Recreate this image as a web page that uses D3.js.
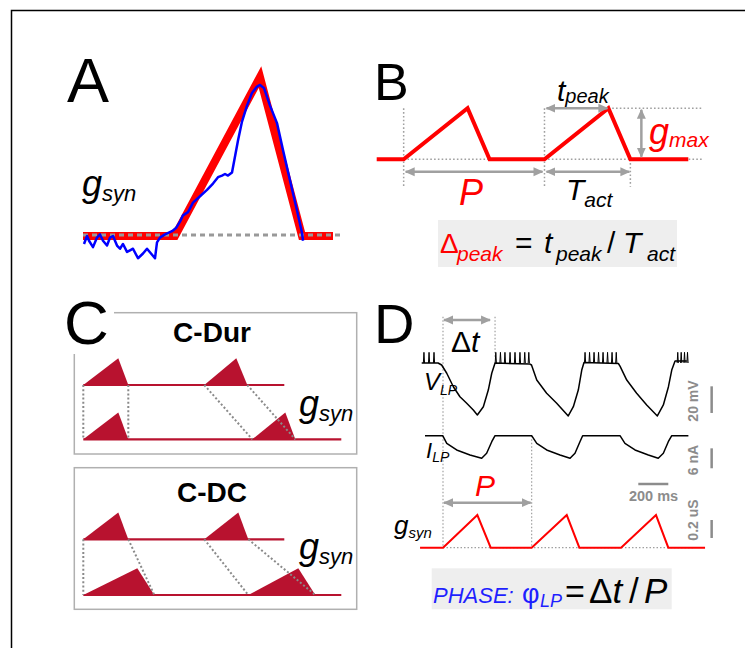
<!DOCTYPE html>
<html><head><meta charset="utf-8">
<script src="https://cdn.jsdelivr.net/npm/d3@7"></script>
<style>body{margin:0;background:#fff}svg{display:block}text{font-family:"Liberation Sans",Arial,Helvetica,sans-serif}</style>
</head><body><svg id="c" width="745" height="648"></svg>
<script>
// ---------------- Panel A data (time in ms, conductance normalised) ----------------
const aModelT = [0, 92, 177, 219, 250];
const aModelG = [0, 0, 1, 0, 0];
const aBaseT = [0, 260];
const aTraceT = [1,4,6,10,14,17,20,24,27,30,34,37,40,44,47,50,55,60,64,68,72,74,77,82,89,93,97,100,105,110,117,124,130,135,139,142,145,149,152,155,159,164,169,174,177,181,187,194,200,207,214,219,220];
const aTraceG = [-0.05,0,-0.03,-0.07,-0.01,0.01,-0.03,-0.06,-0.01,0,-0.06,-0.08,-0.05,-0.10,-0.09,-0.08,-0.14,-0.11,-0.08,-0.11,-0.14,-0.04,-0.01,0.01,0.03,0.05,0.09,0.13,0.15,0.21,0.25,0.29,0.33,0.37,0.38,0.39,0.38,0.40,0.50,0.60,0.72,0.82,0.90,0.94,0.95,0.93,0.82,0.71,0.54,0.35,0.16,0.02,-0.03];

// ---------------- Panel B data ----------------
const bOnsets = [27, 168];
const bTpeak = 64;
const bTact = 86;
const bEnd = 312;
const bGmax = 1;

// ---------------- Panel C data: [onset, peak, offset] per activation ----------------
const cDurRow1 = [[0, 35, 45], [121, 153, 164]];
const cDurRow2 = [[0, 35, 45], [169, 202, 212]];
const cDurEnds = [201, 258];
const cDcRow1 = [[0, 35, 45], [121, 155, 165]];
const cDcRow2 = [[0, 54, 71], [165, 215, 232]];
const cDcEnds = [201, 258];

// ---------------- Panel D data (ms, mV, nA, uS) ----------------
const vT = [-142,-33,-9,25,69,113,158,202,229,269,302,325,347,580,590,625,691,758,835,869,902,925,940,1169,1180,1225,1291,1358,1429,1469,1503,1525,1547,1625];
const vV = [-40,-40,-41.5,-47.7,-57.8,-65.3,-70.2,-75.3,-79,-72.8,-60.3,-47.7,-40,-40.8,-41.5,-52.8,-62.7,-70.2,-79.7,-72.8,-60.3,-45.3,-39.6,-40.4,-42.3,-52.8,-62.7,-71.5,-79.7,-71.5,-57.8,-45.3,-38.5,-38.5];
const spikeT = [-127,-93,-60, 352,383,413,447,480,513,545,572, 947,977,1007,1037,1067,1097,1127,1155, 1565,1588,1610,1630];
const spikePeakV = -32;
const iT = [-120,-2,25,91,180,258,291,325,347,591,625,691,780,847,880,913,931,1180,1213,1280,1369,1435,1469,1502,1525,1636];
const iI = [0,0,-2.3,-4.3,-5.8,-6.8,-5.3,-1.8,0,0,-2.3,-4.3,-5.8,-6.8,-5.3,-1.8,0,0,-2.3,-4.3,-5.8,-6.8,-5.3,-1.8,0,0];
const gOnsets = [0, 591, 1187];
const gPeakT = [229, 825, 1420];
const gOffsets = [318, 909, 1502];
const gPeakVal = 0.363;
const gRange = [-153, 1747];
const dDeltaT = 347;
const dPeriod = 591;
const scaleBars = {mV: 20, nA: 6, uS: 0.2, ms: 200};

// ======================================================================
const svg = d3.select('#c');
const GRAY = '#a0a0a0';

// frame
svg.append('path').attr('d','M11.5,648 L11.5,10.5 L745,10.5').attr('fill','none').attr('stroke','#000').attr('stroke-width',1.5);

// arrow marker
const defs = svg.append('defs');
defs.append('marker').attr('id','ah').attr('viewBox','0 0 10 10').attr('refX',9).attr('refY',5)
  .attr('markerUnits','userSpaceOnUse').attr('markerWidth',10).attr('markerHeight',10)
  .attr('orient','auto-start-reverse')
  .append('path').attr('d','M0,0.5 L10,5 L0,9.5 Z').attr('fill',GRAY);

function txt(g, x, y, s, size, opts={}) {
  return g.append('text').attr('x',x).attr('y',y).text(s)
    .attr('font-size',size).attr('fill',opts.fill||'#000')
    .attr('font-style',opts.italic?'italic':'normal')
    .attr('font-weight',opts.bold?'bold':'normal')
    .attr('text-anchor',opts.anchor||'start');
}
function sublabel(g, x, y, main, sub, size, subSize, dy, opts={}) {
  const t = g.append('text').attr('x',x).attr('y',y).attr('fill',opts.fill||'#000')
    .attr('font-style','italic');
  t.append('tspan').attr('font-size',size).text(main);
  t.append('tspan').attr('font-size',subSize).attr('dy',dy).text(sub);
  return t;
}
function arrow(g, x1, y1, x2, y2) {
  g.append('line').attr('x1',x1).attr('y1',y1).attr('x2',x2).attr('y2',y2)
    .attr('stroke',GRAY).attr('stroke-width',2.5)
    .attr('marker-start','url(#ah)').attr('marker-end','url(#ah)');
}
function dotted(g, x1, y1, x2, y2, w=1.5, dash='1.6,2.2', col=GRAY) {
  g.append('line').attr('x1',x1).attr('y1',y1).attr('x2',x2).attr('y2',y2)
    .attr('stroke',col).attr('stroke-width',w).attr('stroke-dasharray',dash);
}

// ======================= Panel A =======================
{
  const g = svg.append('g');
  const x = d3.scaleLinear().domain([0, 260]).range([83, 343]);
  const y = d3.scaleLinear().domain([0, 1]).range([236, 77]);
  const line = d3.line().x(d=>x(d[0])).y(d=>y(d[1]));
  g.append('path').attr('d', line(aModelT.map((t,i)=>[t,aModelG[i]])))
    .attr('fill','none').attr('stroke','#ff0000').attr('stroke-width',8).attr('stroke-linejoin','miter').attr('stroke-miterlimit',10);
  g.append('path').attr('d', line(aBaseT.map(t=>[t,0.006])))
    .attr('fill','none').attr('stroke','#999').attr('stroke-width',3).attr('stroke-dasharray','5,4');
  g.append('path').attr('d', line(aTraceT.map((t,i)=>[t,aTraceG[i]])))
    .attr('fill','none').attr('stroke','#0000ff').attr('stroke-width',2.5).attr('stroke-linejoin','round');
  txt(g, 67, 102, 'A', 63);
  sublabel(g, 82, 195.5, 'g', 'syn', 36, 22, 5);
}

// ======================= Panel B =======================
{
  const g = svg.append('g');
  const x = d3.scaleLinear().domain([0, 312]).range([376.7, 688.3]);
  const y = d3.scaleLinear().domain([0, 1]).range([159.3, 108.3]);
  const pts = [[0,0]];
  bOnsets.forEach(o => { pts.push([o,0],[o+bTpeak,bGmax],[o+bTact,0]); });
  pts.push([bEnd,0]);
  const o1 = bOnsets[0], o2 = bOnsets[1];
  dotted(g, x(o1), y(1), x(o1), y(-0.54));
  dotted(g, x(o2), y(1), x(o2), y(-0.54));
  dotted(g, x(o2+bTact), y(0), x(o2+bTact), y(-0.54));
  dotted(g, x(o1), y(0), x(326), y(0));
  dotted(g, x(o2+bTpeak), y(1), x(326), y(1));
  g.append('path').attr('d', d3.line().x(d=>x(d[0])).y(d=>y(d[1]))(pts))
    .attr('fill','none').attr('stroke','#ff0000').attr('stroke-width',4).attr('stroke-linejoin','miter');
  arrow(g, x(o1)+2, y(-0.245), x(o2)-2, y(-0.245));
  arrow(g, x(o2)+2, y(-0.245), x(o2+bTact)-1, y(-0.245));
  arrow(g, x(o2)+2, y(1), x(o2+bTpeak)-1, y(1));
  arrow(g, x(265), y(0.97), x(265), y(0.05));
  txt(g, 374, 100, 'B', 52);
  sublabel(g, 557, 101, 't', 'peak', 30, 20, 2);
  sublabel(g, 649, 143.5, 'g', 'max', 36, 21, 3, {fill:'#ff0000'});
  txt(g, 459, 205, 'P', 36, {italic:true, fill:'#ff0000'});
  sublabel(g, 566, 200, 'T', 'act', 30, 21, 7);
  g.append('rect').attr('x',438).attr('y',220).attr('width',239).attr('height',47).attr('fill','#eeeeee');
  txt(g, 440, 253, 'Δ', 28, {fill:'#ff0000'});
  txt(g, 457, 261, 'peak', 21, {fill:'#ff0000', italic:true});
  txt(g, 515, 253, '=', 30);
  txt(g, 544, 253, 't', 30, {italic:true});
  txt(g, 556, 261, 'peak', 21, {italic:true});
  txt(g, 607, 253, '/', 30);
  txt(g, 623, 253, 'T', 30, {italic:true});
  txt(g, 647, 261, 'act', 21, {italic:true});
}

// ======================= Panel C =======================
{
  const g = svg.append('g');
  const x = d3.scaleLinear().domain([0, 258]).range([83.3, 341.3]);
  const CRIM = '#b8122f';
  function panel(rowTop, rowBot, ends, y1, y2, boxY, boxH, title, titleY, gY) {
    g.append('rect').attr('x',74.3).attr('y',boxY).attr('width',282.4).attr('height',boxH)
      .attr('fill','none').attr('stroke','#b0b0b0').attr('stroke-width',1.5);
    txt(g, 212, titleY, title, 28, {bold:true, anchor:'middle'});
    [[rowTop,ends[0],y1],[rowBot,ends[1],y2]].forEach(([row,end,base])=>{
      const y = d3.scaleLinear().domain([0,1]).range([base, base-26.7]);
      g.append('line').attr('x1',x(0)).attr('x2',x(end)).attr('y1',base).attr('y2',base)
        .attr('stroke',CRIM).attr('stroke-width',2.2);
      row.forEach(tr=>{
        g.append('path').attr('d', d3.line().x(d=>x(d[0])).y(d=>y(d[1]))([[tr[0],0],[tr[1],1],[tr[2],0]])+'Z')
          .attr('fill',CRIM);
      });
    });
    rowTop.forEach((tr,i)=>{
      const tb = rowBot[i];
      dotted(g, x(tr[0]), y1, x(tb[0]), y2, 2, '2,2.2', '#8a8a8a');
      dotted(g, x(tr[2]), y1, x(tb[2]), y2, 2, '2,2.2', '#8a8a8a');
    });
    sublabel(g, 299, gY, 'g', 'syn', 36, 22, 5);
  }
  panel(cDurRow1, cDurRow2, cDurEnds, 385, 439.3, 312.7, 141.3, 'C-Dur', 342, 415.5);
  panel(cDcRow1, cDcRow2, cDcEnds, 539.3, 595, 467.7, 141.6, 'C-DC', 502, 559);
  g.append('rect').attr('x',58).attr('y',288).attr('width',56).attr('height',66).attr('fill','#fff');
  txt(g, 64, 344, 'C', 62);
}

// ======================= Panel D =======================
{
  const g = svg.append('g');
  const x = d3.scaleLinear().domain([0, 200]).range([443, 473]);
  const yV = d3.scaleLinear().domain([-80, -40]).range([416.3, 363]);
  const yI = d3.scaleLinear().domain([-6.8, 0]).range([458.3, 435.7]);
  const yG = d3.scaleLinear().domain([0, 0.2]).range([547.7, 529.7]);
  dotted(g, x(0), 316.7, x(0), yG(0), 1.2, '1.5,2');
  dotted(g, x(dDeltaT), 316.7, x(dDeltaT), yV(-40)-6, 1.2, '1.5,2');
  dotted(g, x(dPeriod), yI(0), x(dPeriod), yG(0), 1.2, '1.5,2');
  dotted(g, x(0), yG(0), x(1680), yG(0), 1.2, '1.5,2');
  g.append('path').attr('d', d3.line().x(d=>x(d[0])).y(d=>yV(d[1]))(vT.map((t,i)=>[t,vV[i]])))
    .attr('fill','none').attr('stroke','#000').attr('stroke-width',1.5).attr('stroke-linejoin','round');
  spikeT.forEach(t=>{
    g.append('path').attr('d', `M${x(t)-0.6},${yV(-40)} L${x(t)},${yV(spikePeakV)} L${x(t)+0.6},${yV(-40)}`)
      .attr('fill','none').attr('stroke','#000').attr('stroke-width',1);
  });
  g.append('path').attr('d', d3.line().x(d=>x(d[0])).y(d=>yI(d[1]))(iT.map((t,i)=>[t,iI[i]])))
    .attr('fill','none').attr('stroke','#000').attr('stroke-width',1.5).attr('stroke-linejoin','round');
  const gp = [[gRange[0],0]];
  gOnsets.forEach((o,i)=>gp.push([o,0],[gPeakT[i],gPeakVal],[gOffsets[i],0]));
  gp.push([gRange[1],0]);
  g.append('path').attr('d', d3.line().x(d=>x(d[0])).y(d=>yG(d[1]))(gp))
    .attr('fill','none').attr('stroke','#ff0000').attr('stroke-width',2);
  arrow(g, x(0)+1, 320, x(dDeltaT)-5, 320);
  arrow(g, x(0)+1, 502.7, x(dPeriod)-1, 502.7);
  txt(g, 374, 343, 'D', 56);
  const dt = g.append('text').attr('x',451).attr('y',352).attr('font-size',30);
  dt.append('tspan').text('Δ'); dt.append('tspan').attr('font-style','italic').text('t');
  sublabel(g, 424, 390, 'V', 'LP', 24, 14, 5);
  sublabel(g, 426, 458, 'I', 'LP', 22, 14, 4);
  sublabel(g, 394, 534, 'g', 'syn', 26, 15, 4);
  txt(g, 475, 496, 'P', 30, {italic:true, fill:'#ff0000'});
  const bx = x(1791);
  const SB = '#8c8c8c';
  function vbar(y1, y2, label, cy) {
    g.append('line').attr('x1',bx).attr('x2',bx).attr('y1',y1).attr('y2',y2).attr('stroke',SB).attr('stroke-width',2.5);
    g.append('text').attr('transform',`translate(698,${cy}) rotate(-90)`).attr('text-anchor','middle')
      .attr('font-size',14).attr('font-weight','bold').attr('fill',SB).text(label);
  }
  vbar(yV(-57.5), yV(-57.5-scaleBars.mV), scaleBars.mV+' mV', 401);
  vbar(yI(-3.8), yI(-3.8-scaleBars.nA), scaleBars.nA+' nA', 460);
  vbar(yG(0.108+scaleBars.uS), yG(0.108), scaleBars.uS+' uS', 520);
  g.append('line').attr('x1',x(1302)).attr('x2',x(1302+scaleBars.ms)).attr('y1',484).attr('y2',484).attr('stroke',SB).attr('stroke-width',2.5);
  txt(g, 653.5, 501, scaleBars.ms+' ms', 14.5, {bold:true, fill:SB, anchor:'middle'});
  g.append('rect').attr('x',431.7).attr('y',568.3).attr('width',240).attr('height',41).attr('fill','#eeeeee');
  const BL = '#1f1fff';
  txt(g, 433, 603, 'PHASE:', 22, {italic:true, fill:BL});
  txt(g, 522, 603, 'φ', 27, {fill:BL});
  txt(g, 540, 607, 'LP', 18, {italic:true, fill:BL});
  txt(g, 565, 603, '=', 34);
  const f = g.append('text').attr('x',589).attr('y',603).attr('font-size',35);
  f.append('tspan').text('Δ'); f.append('tspan').attr('font-style','italic').text('t');
  txt(g, 629, 603, '/', 35);
  txt(g, 644, 603, 'P', 35, {italic:true});
}
</script></body></html>
